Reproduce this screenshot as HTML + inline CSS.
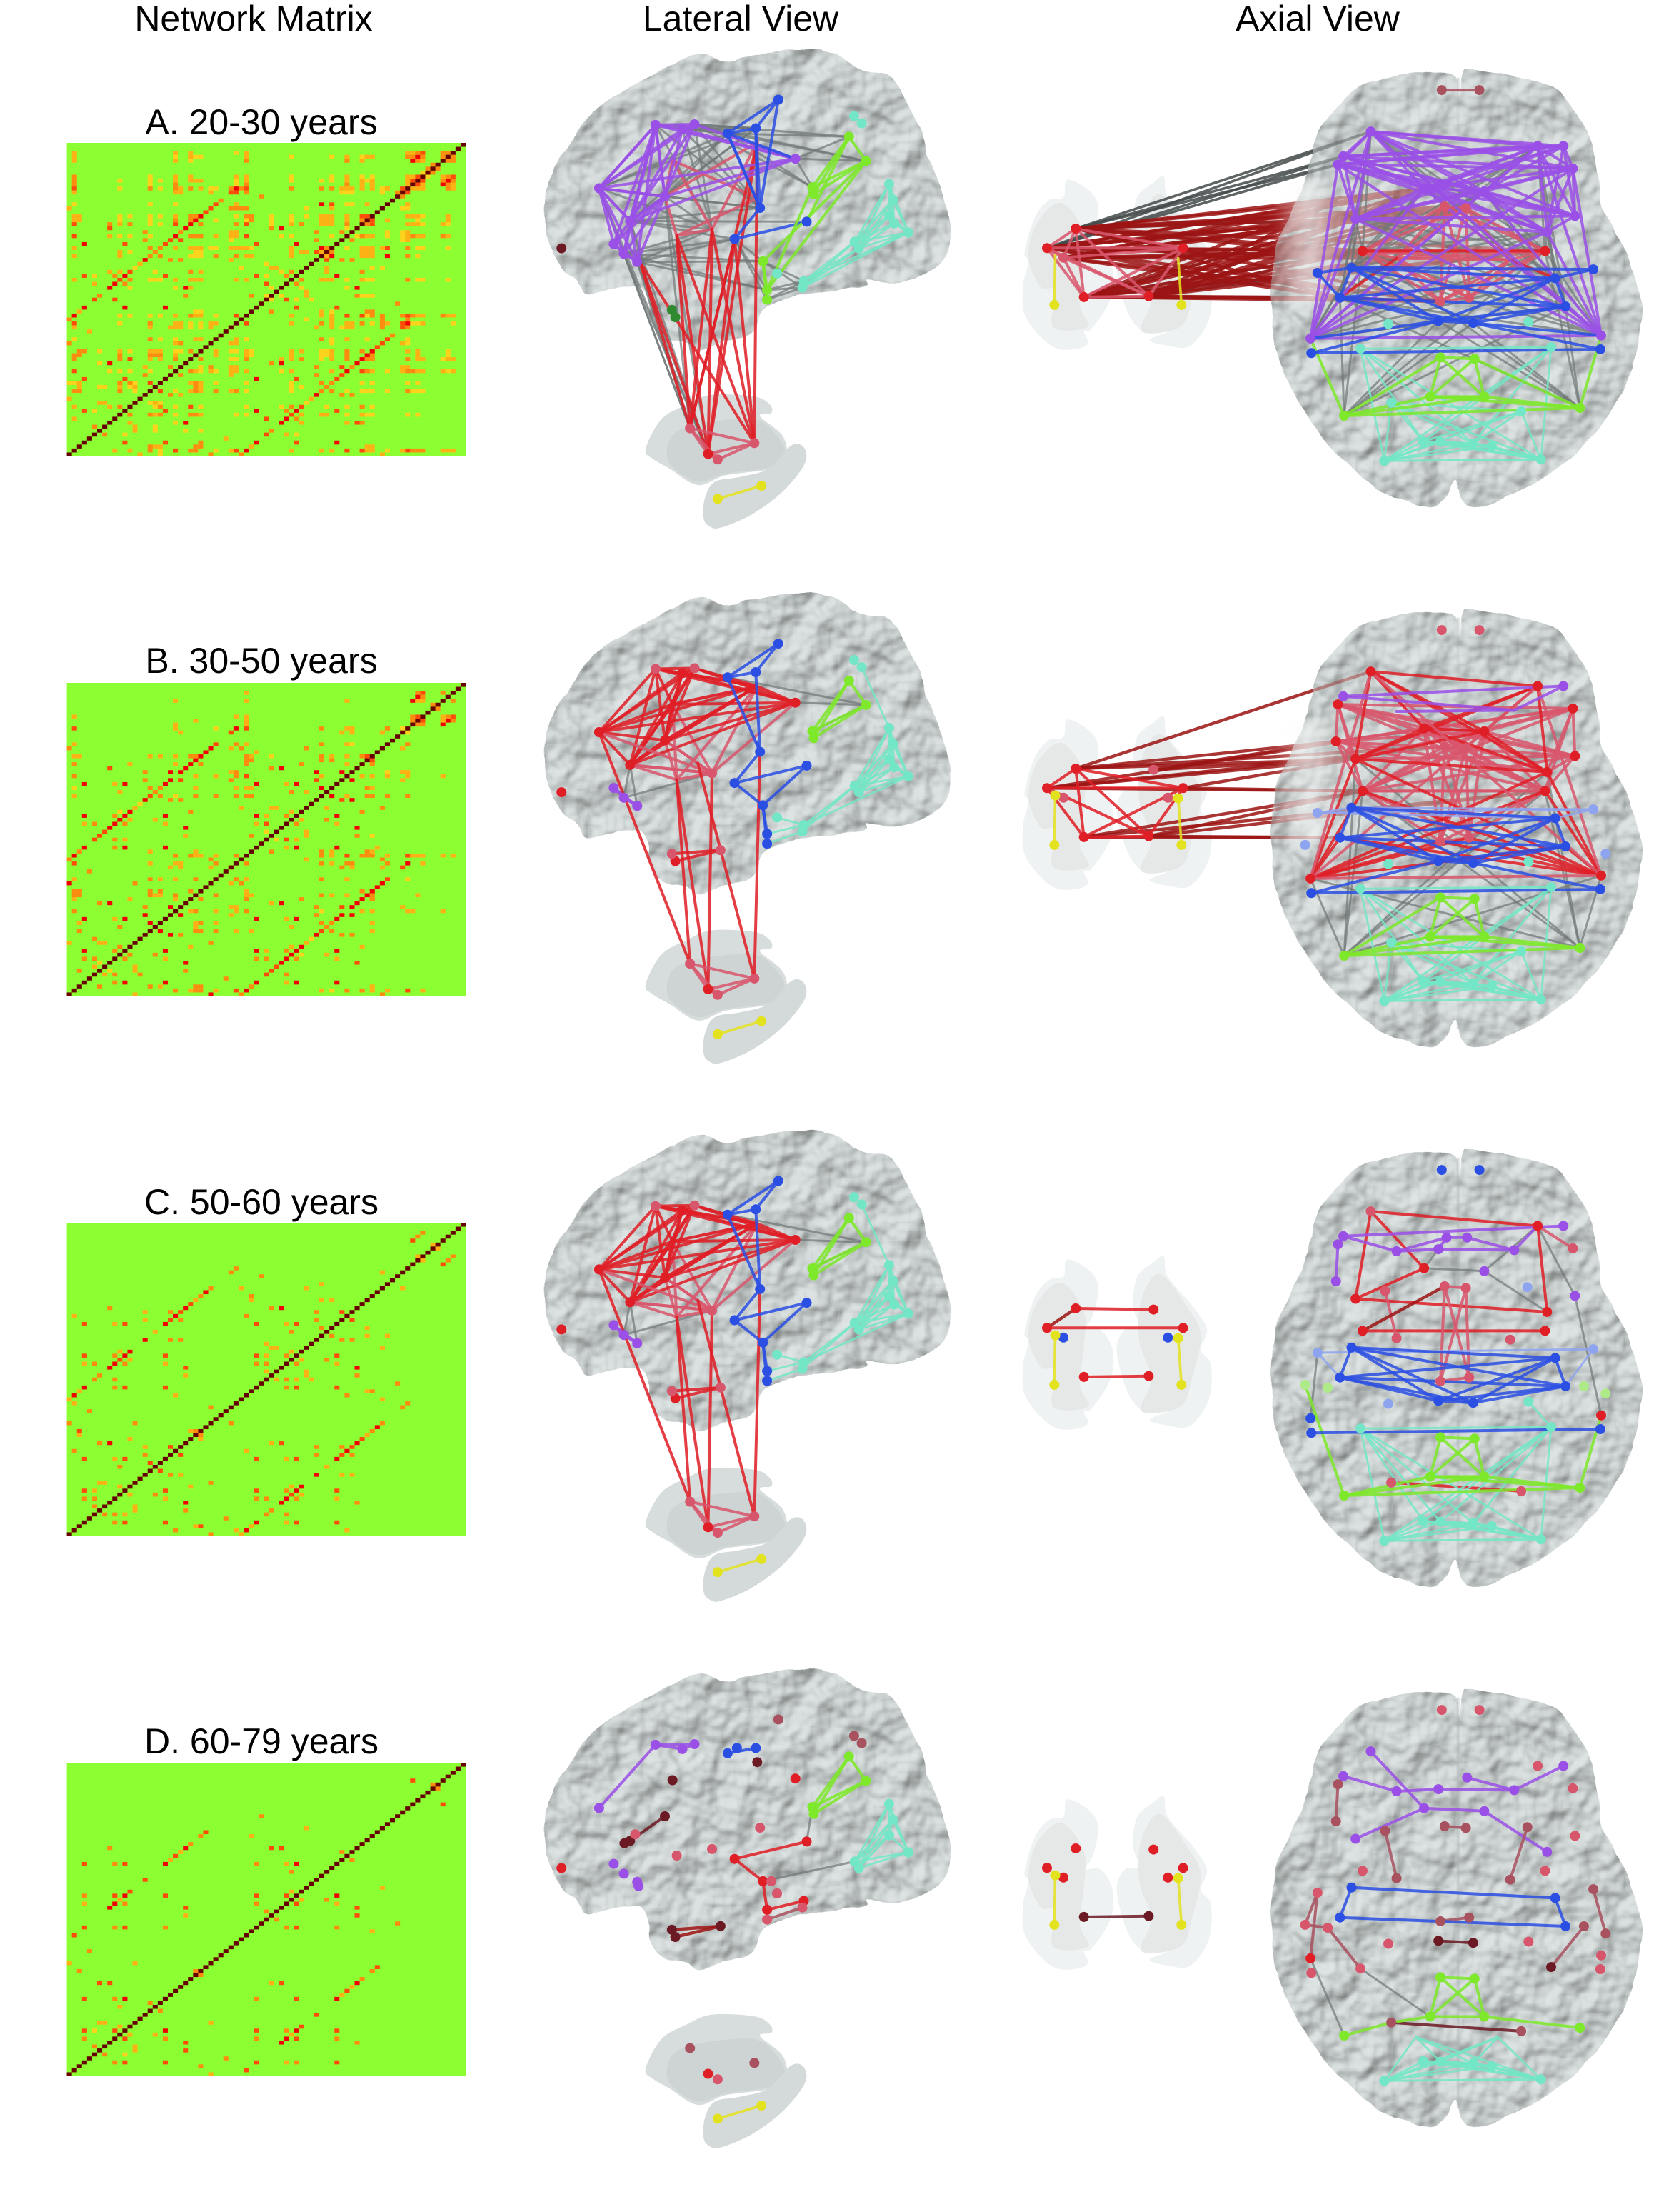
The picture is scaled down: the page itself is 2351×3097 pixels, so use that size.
<!DOCTYPE html>
<html lang="en">
<head>
<meta charset="utf-8">
<title>Network matrices and brain connectivity by age group</title>
<style>
html,body{margin:0;padding:0;background:#fff;}
svg{display:block;}
text{font-family:"Liberation Sans",Arial,sans-serif;font-size:50px;fill:#000;text-anchor:middle;}
</style>
</head>
<body>
<svg id="figure" xmlns="http://www.w3.org/2000/svg" width="2351" height="3097" viewBox="0 0 2351 3097">
  <defs>
    <filter id="gyri" x="-4%" y="-4%" width="108%" height="108%" color-interpolation-filters="sRGB">
      <feTurbulence type="fractalNoise" baseFrequency="0.02" numOctaves="3" seed="11" result="noise"/>
      <feDisplacementMap in="SourceGraphic" in2="noise" scale="9" xChannelSelector="R" yChannelSelector="G" result="shape"/>
      <feDiffuseLighting in="noise" surfaceScale="8.5" diffuseConstant="1" lighting-color="#dde4e3" result="lit">
        <feDistantLight azimuth="235" elevation="65"/>
      </feDiffuseLighting>
      <feComposite in="lit" in2="shape" operator="in"/>
    </filter>
    <filter id="soft" x="-20%" y="-20%" width="140%" height="140%"><feGaussianBlur stdDeviation="7"/></filter>
    <linearGradient id="haze" x1="0" x2="1" y1="0" y2="0">
      <stop offset="0" stop-color="#fff" stop-opacity="0"/>
      <stop offset="0.55" stop-color="#f4f6f5" stop-opacity="0.62"/>
      <stop offset="1" stop-color="#fff" stop-opacity="0"/>
    </linearGradient>
  </defs>
  <text x="355" y="43">Network Matrix</text>
  <text x="1037" y="43">Lateral View</text>
  <text x="1845" y="43">Axial View</text>
  <text x="366" y="188">A. 20-30 years</text>
  <text x="366" y="942">B. 30-50 years</text>
  <text x="366" y="1700">C. 50-60 years</text>
  <text x="366" y="2455">D. 60-79 years</text>
  <g id="layer"></g>
</svg>
<script>
/* ---------- matrix data: each row is [rowFromTop, col, level, col, level, ...] ---------- */
const regionCount = 79;
const levelColors = ["#8cff33", "#ffd21c", "#ffb015", "#ff8a10", "#ff4a0a", "#f20000", "#660000"];
const cellsA = [
[2,1,2,21,2,24,2,33,1,35,2,67,2,68,2,69,3,70,4,74,3,75,3],
[3,1,2,21,1,24,2,25,1,26,1,35,2,44,1,52,1,55,2,58,1,59,2,60,2,67,3,68,3,69,5,70,3,74,3],
[4,1,2,21,2,24,1,35,3,55,3,58,2,68,5,69,3,70,2],
[5,72,3],[6,71,3],[7,70,1],
[8,1,3,16,1,21,2,24,2,33,2,35,2,44,1,52,1,55,2,58,1,60,1,67,2,68,2,69,4],
[9,1,3,10,1,16,1,18,1,21,2,24,2,25,2,26,2,33,1,35,2,44,1,50,1,52,1,55,2,58,2,59,1,60,2,67,2,68,4],
[10,1,3,16,1,21,3,33,1,35,3,55,3,58,2,60,2,67,2],
[11,1,4,10,1,16,3,18,1,21,3,22,2,24,3,26,2,28,1,29,1,32,3,33,5,34,3,35,4,44,3,50,3,52,3,54,2,55,2,56,2,58,2,60,2,62,2,63,2,66,4],
[12,1,2,21,2,22,2,28,2,32,4,33,4,35,3,54,1,55,1,56,1,62,3,65,3],
[13,38,3],[14,30,3],
[15,1,1,16,1,21,1,29,4,33,2,50,5,52,4,55,1,56,1,59,2,67,2],
[16,0,2,28,4,32,3,33,3,34,3,35,3,47,1,52,2,66,1,67,1],
[17,27,4],
[18,1,2,2,2,10,1,12,1,16,1,18,1,21,2,24,3,25,3,26,5,33,1,35,3,36,3,40,1,44,1,47,1,50,2,51,2,52,2,55,2,58,4,59,4],
[19,1,2,2,2,10,1,16,1,21,3,24,3,25,5,29,1,35,1,36,3,40,1,44,1,50,2,51,2,52,2,55,2,58,3],
[20,1,4,8,3,10,2,12,3,16,1,18,1,21,4,24,5,26,3,33,3,35,4,40,1,44,2,46,3,50,2,51,2,52,2,55,3],
[21,8,4,23,5,40,3,42,5,55,1],
[22,15,3,22,3,32,2,33,2,49,3,54,3],
[23,1,4,8,2,10,1,12,1,16,1,21,5,24,3,25,3,26,3,29,2,32,2,33,2,35,4,42,1,44,1,52,1],
[24,15,3,20,4,22,4,32,1,49,3],
[25,3,5,11,4,19,4,37,4,45,5],
[26,1,2,16,3,18,3,21,2,24,2,25,2,26,2,28,1,29,1,32,2,33,2,34,2,35,2,36,1,44,2,50,5,51,3],
[27,10,2,12,1,17,3,25,1,26,1,44,2,46,2,47,2,49,4,50,2],
[28,1,2,10,2,16,3,18,3,24,1,25,1,26,1,29,3,33,3,35,2,36,2,44,2],
[29,15,5,20,3,22,3,32,2],
[30,14,2,39,1],[31,13,1,34,1,40,2,41,2],
[32,8,2,10,2,12,4,17,1,24,3,26,2,42,1,44,3],
[33,3,4,5,1,9,3,11,5,19,4,37,4,39,1,43,3],
[34,1,2,10,4,12,3,16,1,17,1,18,1,21,2,24,2,25,2,26,2,33,2,35,2],
[35,5,2,9,5,11,3,39,4],
[36,8,5,12,1,21,1,23,5,24,2,40,1],
[38,6,3,23,3,36,3,39,1],
[39,5,4,9,4],
[41,3,5,11,5,19,5],
[42,2,2,25,1,26,1],
[43,1,5,10,1,12,1,16,1,18,1,21,2,24,3,25,2,26,2,29,1,33,4],
[44,0,3],
[45,1,4,10,1,16,3,21,2,22,2,24,1,26,1,28,2,29,2],
[46,1,2,16,2,20,2,21,2,22,2,24,1,26,1,28,2,32,3],
[47,4,2],
[49,1,1,16,3,18,1,21,1,25,2,26,2],
[50,0,3,21,2,22,3],
[52,2,3,3,3,6,1,10,2,12,1,16,2,17,2,18,2,21,1,22,1,24,3],
[53,1,3,2,3,10,3,16,3,17,3,18,3,21,2],
[54,1,3,10,3,12,4,16,2,18,2,21,3],
[55,6,1,8,5],[56,15,2,20,3],
[57,1,4,8,1,10,1,12,1,16,1],
[58,15,3],[59,3,4,11,4],
[60,0,1,1,1,2,2,10,3,12,3,13,1,16,4],
[61,2,2,6,1,7,1,10,2,12,1,13,2],
[62,1,3,2,3,10,3,13,1],
[64,0,2],[65,6,2,7,2],[66,1,2,8,2,10,3],[67,3,4,5,1],[69,1,2],[71,5,3]
];
const cellsB = [
[2,35,2,69,3,70,4,74,3],[3,69,5,70,3],[4,21,2,35,2,55,2,68,5,69,2,70,2],[5,72,3],
[8,1,2,33,2,35,2,68,3,69,4],[9,25,2,35,2,68,3],[10,21,2,35,2],
[11,1,4,21,2,29,1,33,5,35,4,50,3,55,2,56,2,63,3,66,1],
[12,22,2,32,4,54,2,56,2,62,3],
[15,1,2,29,4,33,3,35,2,50,3,55,2,56,2,67,3],
[16,0,3,28,5,32,2,34,3,47,3,66,2],
[17,27,5,37,2],
[18,1,2,2,2,16,2,18,2,21,2,24,3,25,3,26,5,35,3,36,2,40,1,50,3,52,2,55,2,58,3,59,4],
[19,25,5,35,3,36,3,50,3,52,3],
[20,1,3,12,2,21,2,24,5,26,3,35,3,46,3,55,2],
[21,8,4,23,5,40,3,42,5],
[22,15,3,20,5,22,5,32,2,33,3,49,5,54,5,63,1,66,2,67,2],
[23,1,3,25,2,29,2,33,3,35,4,50,2],
[24,15,3,20,5,22,4,32,3,49,4],
[25,3,5,9,2,11,5,19,5,37,5,43,2,45,5],
[26,1,1,16,3,18,3,25,2,33,2,35,2,36,2,50,5],
[27,10,2,17,3,44,3,47,2],
[28,1,2,16,4,18,3,21,1,25,3,29,3,33,3,35,3,36,3],
[29,15,5,20,3,22,3],
[30,14,1],[31,13,2,34,2,40,2,41,2],
[32,10,1,12,5,24,3,44,2],
[33,3,5,9,3,11,5,19,5,37,5,39,2,43,3],
[34,10,5,12,2,17,2],
[35,3,2,5,3,9,5,11,3,19,2,37,2,39,4],
[36,8,5,23,5],[37,39,1,7,4],
[38,6,4,23,2,36,3],
[39,5,4,9,3,11,2],
[41,3,5,9,3,11,5,19,5],
[42,2,3,16,2,25,2],
[43,1,5,21,3,24,3,25,2,26,2,29,2,33,3],
[44,0,3,28,3],
[45,1,4,16,2,21,2,22,2,29,3],
[46,20,2,22,2,28,2,32,3],
[47,4,3],
[49,1,2,16,3,18,2,21,2,25,3],
[50,0,5,13,3],
[52,1,3,2,3,16,3,18,3,24,3],
[53,1,3,2,3,16,3,17,2,18,2,21,3],
[54,1,2,12,2,21,2],
[55,6,3,8,5],
[56,15,3,20,5],
[57,1,3],[58,15,5],
[59,3,5,9,2,11,5],
[60,2,2,16,5],[61,10,3],[62,2,3],
[64,5,3],[65,0,2,6,2,7,2],[66,10,3],
[67,3,5,9,3],[69,3,3,5,3],[70,6,1],[71,5,2],[72,2,3]
];
const cellsC = [
[2,70,3],[3,69,3],[4,68,4],[5,72,2],[8,69,2],
[11,33,3],[12,32,3,62,2],[13,38,3],[15,50,2],
[16,28,3,34,2,47,2,66,2],[17,27,5],[18,26,3,36,3],
[19,25,2,36,2,50,2,52,2],[20,24,4],
[21,23,5,8,3,40,3,42,5],
[22,15,2,20,3,22,4,49,3,54,4],
[23,1,2,21,5,35,3],[24,15,2,20,4,22,3,49,3],
[25,3,4,9,2,11,4,19,5,37,4,43,2,45,4],
[26,50,3],[27,17,2,44,3],
[29,15,5,20,3,22,3],[30,39,2],[31,40,2,41,2],
[32,10,2,12,5,44,2],
[33,3,4,9,3,11,5,19,4,37,4,39,2,43,3],
[34,10,4,12,2],
[35,3,2,5,3,9,5,11,3,19,2,37,3,39,3],
[36,8,5,23,4],[37,39,2],
[38,6,3,23,2],[39,5,3,9,3],
[41,3,5,9,3,11,4,19,4],
[42,2,2],[43,1,5,21,2],[44,0,2],[45,1,2],
[46,28,3],[47,4,3],[50,0,3,13,3],
[52,2,4,24,2,25,3],[53,2,2],[54,12,2],
[55,6,3,8,5],[56,15,2,20,4],[57,1,3],[58,15,3],
[59,3,4,9,2,11,4],[60,16,4],[61,10,3],
[65,6,2,7,2],[66,10,2],[67,3,4,5,2],
[69,3,3,5,3],[71,5,3]
];
const cellsD = [
[4,68,4],[5,72,3],[13,38,3],[16,47,2],[17,27,4],[18,26,3,36,2],
[20,24,3],[21,23,5,8,3,40,4,42,4],[22,22,2,54,3],[23,21,4],[24,20,2],
[25,19,5,3,4,9,3,11,4,37,3,43,2,45,5],[27,44,3],[29,15,4],
[32,12,4,44,2],
[33,3,3,9,4,11,5,19,4,37,4,43,4],
[34,10,2],
[35,3,2,9,5,11,3,37,3],
[36,8,5,23,4],[37,39,3],[38,23,2],
[41,3,4,9,3,11,4,19,3],
[43,1,4],[47,4,3],[50,0,2,13,2],[52,2,3,25,3],
[55,6,4,8,4],
[59,3,4,9,3,11,5],[60,16,3],[61,10,2],
[65,6,2,7,2],[66,10,2],[67,3,4,5,1,9,4],[69,3,3],[71,5,3]
];

/* ---------- brain atlas: region locations in each view's anatomical units ---------- */
const lateralRegions = {
P1:[250,465],P2:[450,272],P3:[545,285],P4:[588,270],P5:[483,490],P6:[360,565],P6b:[340,572],P7:[945,375],P8:[302,635],P9:[338,665],P10:[385,690],P10b:[390,703],
R1:[510,380],R2:[650,590],R3:[810,325],R4:[525,610],R5:[395,690],R6:[600,560],R7:[860,688],R8:[378,545],
B1:[705,298],B1b:[738,282],B2:[805,282],B3:[885,195],B4:[985,567],B5:[730,620],B6:[820,525],B6b:[810,495],B7:[830,688],B8:[845,775],B9:[845,805],
G1:[1135,308],G2:[1195,382],G3:[1005,462],G4:[1010,483],
C1:[1153,245],C2:[1180,267],C3:[1277,452],C4:[1290,500],C5:[1277,548],C6:[1295,572],C7:[1345,600],C8:[1155,628],C9:[1170,648],C10:[975,748],C11:[970,768],C12:[880,725],
S1:[572,1197],S2:[636,1275],S3:[670,1292],S4:[800,1242],Y1:[670,1412],Y2:[825,1372],
F:[117,648],T1:[508,836],T2:[520,858],T3:[680,825],T4:[690,838]
};
const axialRegions = {
fa1:[905,255],fa2:[1312,305],pa1:[1375,305],pa2:[838,340],fa3:[825,368],fa4:[1398,382],fa5:[1035,450],fa6:[1182,460],fa7:[868,555],fa8:[1335,600],fa9:[1403,545],fa10:[820,495],
pb1:[968,392],pb2:[1070,385],pb3:[1090,345],pb4:[1140,345],pb5:[1255,388],
m1:[1085,512],m2:[1137,518],fa11:[885,665],fa12:[1330,665],ta1:[968,690],ta2:[1245,695],tb1:[940,528],tb2:[1287,515],
ba1:[858,722],ba2:[1355,758],ba3:[1448,728],ba4:[775,740],ba5:[830,825],ba6:[1380,855],ba7:[1070,905],ba8:[1155,912],ba9:[760,1015],ba10:[1465,1002],
m3:[1075,838],m4:[1145,825],e1:[758,965],e2:[1467,955],
ga1:[840,1230],ga2:[1415,1203],ga3:[1050,1165],ga4:[1182,1165],ga5:[1075,1030],ga6:[1158,1035],ga7:[745,850],ga8:[800,860],ga9:[1425,855],ga10:[1478,880],
ca1:[955,1185],ca2:[1272,1215],ca3:[1033,1318],ca4:[1075,1320],ca5:[1155,1325],ca6:[1200,1335],ca7:[938,1385],ca8:[1320,1380],ca9:[880,1000],ca10:[1345,995],ca11:[948,915],ca12:[1290,908],ca13:[1015,1235],ca14:[1215,1235],
pole1:[1078,113],pole2:[1170,113],
s1:[185,588],s2:[115,655],s3:[155,688],s4:[205,823],s5:[363,820],s6:[447,655],s7:[410,688],s8:[375,592],
y1:[133,850],y2:[443,850],y3:[135,680],y4:[435,690]
};

/* ---------- anatomical outlines in the same view units ---------- */
const lateralCortexOutline = [[55,525],[70,447],[100,379],[140,340],[200,262],[280,194],[400,136],[545,73],[620,58],[700,78],[820,53],[950,39],[1080,53],[1180,107],[1280,126],[1340,204],[1400,321],[1430,389],[1470,486],[1497,613],[1470,681],[1400,729],[1300,754],[1200,739],[1190,763],[1000,788],[900,807],[830,836],[790,904],[700,934],[610,958],[560,934],[480,919],[430,865],[410,778],[350,763],[210,788],[170,739],[130,710],[70,622]];
const lateralStriatumOutline = [[415,1260],[470,1170],[560,1125],[650,1095],[800,1100],[855,1125],[860,1150],[820,1160],[900,1220],[915,1290],[870,1320],[700,1340],[600,1370],[500,1320],[440,1290]];
const lateralPutamenOutline = [[490,1265],[520,1210],[620,1180],[800,1170],[880,1220],[908,1275],[860,1315],[700,1335],[600,1360],[510,1315]];
const lateralHippocampusOutline = [[620,1470],[625,1410],[660,1360],[750,1345],[850,1320],[930,1250],[975,1255],[978,1305],[900,1390],[790,1460],[680,1500],[640,1495]];
const axialCortexOutline = [[1130,50],[1150,45],[1250,65],[1350,110],[1400,180],[1440,270],[1460,410],[1470,510],[1500,600],[1540,700],[1565,880],[1550,1040],[1500,1190],[1430,1320],[1350,1420],[1260,1495],[1170,1540],[1125,1515],[1112,1455],[1060,1540],[960,1510],[880,1435],[790,1310],[720,1160],[680,1030],[660,880],[670,680],[700,570],[740,440],[770,280],[820,180],[880,100],[950,70],[1060,50],[1110,60],[1118,130]];
const axialSubLeftOutline = [[165,420],[220,460],[240,520],[225,620],[205,660],[245,660],[275,730],[270,830],[225,930],[205,940],[215,980],[190,1000],[140,1000],[100,960],[60,880],[57,780],[70,700],[60,670],[85,550],[120,490],[155,480]];
const axialSubRightOutline = [[400,410],[410,480],[470,580],[505,660],[490,730],[515,780],[510,900],[465,990],[410,990],[365,970],[410,940],[350,940],[310,870],[285,730],[305,660],[340,650],[325,580],[335,480],[375,430]];
const axialSubLeftCore = [[150,500],[205,600],[205,720],[195,850],[215,925],[130,925],[135,800],[100,790],[70,690],[90,570]];
const axialSubRightCore = [[390,470],[460,590],[490,680],[470,820],[440,925],[345,940],[370,830],[340,700],[345,560]];

/* ---------- networks per age group ---------- */
const swatches = {purple:"#9a50e6",lightpurple:"#bb8cf0",blue:"#2b4fe3",lightblue:"#8fa4ef",green:"#7ee82a",lightgreen:"#aeea88",cyan:"#72e6c6",red:"#e01e26",pink:"#d8566c",dark:"#6b1a24",darkpink:"#a8525f",yellow:"#e3e21f",gray:"#6f7676",darkgray:"#454b4b",darkred:"#9c1414",darkgreen:"#2f8a2f"};
const strokeWidths = {gray:3,darkgray:3.6,cyan:2.8,darkred:4.4,lightblue:3,yellow:3.6};

const lateralEdgesA = [
["gray","P1 P2 P3 P4 P5 P6","B1 B2 B6 R2"],["gray","P7 B1 P4","G3 G2 G1"],["gray","P1 P6 P9 P10 P5","S1 S2"],["gray","P9 P10","B7 B8 R2 B5"],["gray","P6","B4 B5"],["gray","B7 B8 B9","C10 C11 B5"],
["pink","R1 R3 R4","R2 B6b P5"],
["red","R5 R4 R2 B5 R3","S1 S2 S4"],
["pink","S1 S2 S3 S4"],
["purple","P1 P2 P3 P4 P5 P6 P7"],["purple","P8 P9 P10 P6 P1 P2 P5"],
["blue","B1 B2 B3 B6"],["blue","B4:B5 B5:B6 B6:B1 B1:P7 B2:B6b"],
["green","G1 G2 G3 G4"],["green","G2:B8 G2:B7 G3:B8 B7:B8 B7:B9 G1:B4"],
["cyan","C3 C4 C5 C6 C7 C8 C9"],["cyan","C7 C8 C9","C10 C11"],["cyan","C1:C2"],
["yellow","Y1:Y2"]
];
const lateralEdgesB = [
["gray","P4:B1 B1:G2 P7:G2 P6:P9 P9:R2 G3:G2 P6:P10"],
["pink","R1 R2 R4 P5 P6 R3"],
["red","P1 P2 P3 P4 P5 P6 P7 R1 R3"],["pink","P1 P5 P6 P7","R2"],
["red","P1:S1 R4:S1 R4:S2 R2:S2 R6:S4 B6:S4"],
["pink","S1 S2 S3 S4"],
["red","T1:T3 T2:T3"],
["blue","B1 B2 B3"],["blue","B1:B6 B2:B6 B6:B5 B6:B6b"],["blue","B4 B5 B7"],["blue","B7:B8 B7:B9"],
["purple","P8 P9 P10"],
["green","G1 G2 G3 G4"],
["cyan","C3 C4 C5 C6 C7 C8 C9"],["cyan","C1:C2 C2:C3 C12:C10 C10:C8 C10:C7 C11:C8 B8:C10 B9:C11"],
["yellow","Y1:Y2"]
];
const lateralEdgesC = lateralEdgesB;
const lateralEdgesD = [
["gray","G3:B4 C8:B7"],
["purple","P1:P2 P2:P3 P2:P4 P3:P4"],["blue","B1:B2"],
["green","G1 G2 G3 G4"],["cyan","C3 C4 C5 C7 C8 C9"],
["dark","P5:P6"],["red","B4:B5 B5:B7 B7:B8 B8:C10"],["darkpink","C11:B9"],["darkred","T1:T3 T2:T3"],
["yellow","Y1:Y2"]
];
const lateralNodesA = [["purple","P1 P2 P3 P4 P5 P6 P7 P8 P9 P10"],["blue","B1 B2 B3 B4 B5 B6"],["green","G1 G2 G3 G4 B7 B8 B9"],["cyan","C1 C2 C3 C4 C5 C6 C7 C8 C9 C10 C11 C12"],["pink","S1 S3 S4"],["red","S2"],["yellow","Y1 Y2"],["dark","F"],["darkgreen","T1 T2"]];
const lateralNodesB = [["red","P1 P3 P5 P6 P7 F T2"],["pink","P2 P4 R2 S1 S3 S4 T1 T3"],["purple","P8 P9 P10"],["blue","B1 B2 B3 B4 B5 B6 B7 B8 B9"],["green","G1 G2 G3 G4"],["cyan","C1 C2 C3 C4 C5 C6 C7 C8 C9 C10 C11 C12"],["red","S2"],["yellow","Y1 Y2"]];
const lateralNodesC = lateralNodesB;
const lateralNodesD = [["purple","P1 P2 P3 P4 P8 P9 P10 P10b"],["blue","B1 B1b B2"],["green","G1 G2 G3 G4"],["cyan","C3 C4 C5 C7 C8 C9"],["dark","P5 P6 P6b R1 R3 T1 T2 T3"],["darkpink","B3 C1 C2 S1 S4"],["red","B4 B5 B7 B8 C10 F P7 S2"],["pink","R2 B6 R4 R8 C11 B9 C12 R7 S3"],["yellow","Y1 Y2"]];

const axialCyanNet = [["cyan","ca3 ca4 ca5 ca6 ca7 ca8"],["cyan","ca9 ca10 ca1 ca2","ca3 ca5 ca7 ca8"],["cyan","ca1:ca2 ca9:ca10"]];
const axialSubEdgesA = [
["darkgray","s1 s2","fa1 pa2 fa3 fa7"],["darkgray","s4 s5","fa7 fa11 ba4"],
["darkred","s1 s2 s4 s5 s3","fa10 fa7 fa11 m1 m2 ta1 ba5 fa5 m3 fa12"],
["pink","s1 s2 s3 s4 s5 s6"],["yellow","y1:y3 y2:y4"]
];
const axialEdgesA = [
["gray","fa1 fa2 fa5 fa6 fa7 fa8 e1 e2","fa11 fa12 ba1 ba2 ba5 ba6"],["gray","ga1 ga2","fa11 fa12 ba5 ba6 ba7 ba8"],
["pink","m1 m2 m3 m4 fa11 fa12 ta1 ta2"],["red","fa11:fa12 ba5:m3 ba5:ta1 ba2:ta2"],
...axialCyanNet,
["green","ga1 ga2 ga3 ga4"],["green","ga5 ga6 ga3 ga4"],["green","ga1:ga5 ga2:ga6 e1:ga1 e2:ga2"],
["purple","fa1 fa2 pa1 pa2 fa3 fa4 fa5 fa6 fa7 fa8 fa9"],["purple","e1 e2","fa1 fa2 fa3 fa4 fa7 fa8 fa5 fa6"],["purple","e1:e2"],
["blue","ba1 ba2 ba5 ba6 ba7 ba8"],["blue","ba3:ba1 ba3:ba2 ba4:ba1 ba4:ba5 ba9:ba10 ba9:ba7 ba10:ba8 e1:ba7 e2:ba8"],
["pole","pole1:pole2"]
];
const axialSubEdgesB = [
["darkred","s1:fa1 s1:fa7 s1:fa10 s1:m1 s2:fa7 s2:fa11 s2:m1 s2:fa5 s6:fa7 s6:fa11 s8:fa7 s4:fa11 s4:fa12 s5:fa11 s5:fa12 s5:ba5 s4:ba5 s8:fa10"],
["red","s1 s2 s4 s5 s6"],["pink","s2:s3"],["yellow","y1:y3 y2:y4"]
];
const axialEdgesB = [
["gray","fa7 fa11 fa8 fa12 e1 e2","ga1 ga2"],
["pink","m1 m2 m3 m4 fa11 fa12 fa5 fa6"],
["pink","fa3 fa4 fa9 fa10 fa11 fa12"],["pink","fa3 fa4 fa9 fa10","fa5 fa6 fa7 fa8"],
["red","fa1 fa2 fa5 fa6 fa7 fa8"],["red","e1 e2","fa7 fa8 fa11 fa12 m3 m4 ba5 ba6"],["pink","e1 e2","fa1 fa2"],["pink","e1:e2"],
["purple","pa1:pa2 pa2:pb5 pa1:pb5 pb1:pb5"],
["lightblue","ba3 ba4 ba1 ba2"],
...axialCyanNet,
["green","ga1 ga2 ga3 ga4"],["green","ga5 ga6 ga3 ga4"],["green","ga1:ga5"],
["blue","ba1 ba2 ba5 ba6 ba7 ba8"],["blue","ba9:ba10 ba9:ba7 ba10:ba8"]
];
const axialSubEdgesC = [["red","s1:s8 s2:s6 s4:s5"],["darkred","s1:s2"],["yellow","y1:y3 y2:y4"]];
const axialEdgesC = [
["gray","fa5:fa6 fa6:fa8 fa5:pb2 fa2:fa9 fa9:e2 fa6:fa2 e1:ba4"],
["red","fa1:fa2 fa1:fa7 fa1:fa5 fa5:fa7 fa7:fa8 fa2:fa8 fa11:fa12 ca1:ca2"],
["pink","fa2:fa4 m1:m2 m1:m3 m2:m4 m1:m4 m2:m3 m3:m4 tb1:ta1"],["darkred","m1:fa11"],
["purple","pa1:pa2 pa2:pb1 pa2:fa3 fa3:fa10 pb1:pb2 pb1:pb3 pb2:pb3 pb3:pb4 pb4:pb5 pb2:pb5 pb5:fa2"],
["lightblue","ba4:ba3 ba4:ba5 ba3:ba6"],
["cyan","ca3 ca4 ca5 ca6 ca7 ca8"],["cyan","ca9 ca10","ca3 ca4 ca5 ca7 ca8"],["cyan","ca9:ca10 ca12:ca10"],
["green","ga1 ga2 ga3 ga4"],["green","ga5 ga6 ga3 ga4"],["green","ga1:ga7 ga2:e2"],
["blue","ba1 ba2 ba5 ba6 ba7 ba8"],["blue","ba9:ba10"]
];
const axialSubEdgesD = [["dark","s4:s5"],["yellow","y1:y3 y2:y4"]];
const axialEdgesD = [
["gray","e1:ga1 ca9:ga3"],
["purple","fa1:fa5 fa7:fa5 fa5:fa6 fa6:fa8 pa2:pb1 pb1:pb2 pb2:pb5 pb4:pb5 pb5:pa1"],
["darkpink","fa3:fa10 tb1:ta1 tb2:ta2 m1:m2 m3:m4 ba3:ga10 ga9:ca10 ba4:ga7 ba4:e1 ga7:ga8 ga8:ca9"],
["dark","ba7:ba8 ca1:ca2"],
["blue","ba1:ba2 ba2:ba6 ba6:ba5 ba5:ba1"],
["cyan","ca3 ca4 ca5 ca6 ca7 ca8"],["cyan","ca7 ca8 ca4 ca5","ca13 ca14"],
["green","ga1:ca1 ca1:ga3 ga3:ga4 ga4:ga2 ga5:ga6 ga5:ga3 ga5:ga4 ga6:ga3 ga6:ga4"]
];
const axialNodesA = [["purple","fa1 fa2 pa1 pa2 fa3 fa4 fa5 fa6 fa7 fa8 fa9 e1 e2"],["blue","ba1 ba2 ba3 ba4 ba5 ba6 ba7 ba8 ba9 ba10"],["green","ga1 ga2 ga3 ga4 ga5 ga6"],["cyan","ca1 ca2 ca3 ca4 ca5 ca6 ca7 ca8 ca9 ca10 ca11 ca12"],["pink","m1 m2 m3 m4 s3"],["red","fa11 fa12 s1 s2 s4 s5 s6"],["darkpink","pole1 pole2"],["yellow","y1 y2"]];
const axialNodesB = [["red","fa1 fa2 fa3 fa4 fa5 fa6 fa7 fa8 fa9 fa10 fa11 fa12 e1 e2 s1 s2 s4 s5 s6"],["pink","m1 m2 m3 m4 pole1 pole2 s3 s7 s8"],["purple","pa1 pa2"],["blue","ba1 ba2 ba5 ba6 ba7 ba8 ba9 ba10"],["lightblue","ba3 ba4 ga7 ga10"],["green","ga1 ga2 ga3 ga4 ga5 ga6"],["cyan","ca1 ca2 ca3 ca4 ca5 ca6 ca7 ca8 ca9 ca10 ca11 ca12"],["yellow","y1 y2 y3 y4"]];
const axialNodesC = [["red","fa2 fa5 fa7 fa8 fa11 fa12 e2 s1 s2 s4 s5 s6 s8"],["pink","fa1 fa4 m1 m2 m3 m4 ta1 ta2 tb1 ca1 ca2"],["purple","pa1 pa2 fa3 fa6 fa9 fa10 pb1 pb2 pb3 pb4 pb5"],["blue","ba1 ba2 ba5 ba6 ba7 ba8 ba9 ba10 e1 pole1 pole2 s3 s7"],["lightblue","ba3 ba4 ca11 tb2"],["lightgreen","ga7 ga8 ga9 ga10"],["green","ga1 ga2 ga3 ga4 ga5 ga6"],["cyan","ca3 ca4 ca5 ca6 ca7 ca8 ca9 ca10 ca12"],["yellow","y1 y2 y3 y4"]];
const axialNodesD = [["purple","fa1 fa5 fa6 fa7 fa8 pa1 pa2 pb1 pb2 pb4 pb5"],["pink","pole1 pole2 fa2 fa4 fa9 fa11 fa12 ca11 ca12 e2 ba10 ba9 ga8 ga7 ba4 ca9"],["darkpink","fa3 fa10 tb1 ta1 tb2 ta2 m1 m2 m3 m4 ba3 ga10 ga9 ca1 ca2"],["red","e1 s1 s2 s3 s6 s7 s8"],["dark","ba7 ba8 s4 s5 ca10"],["blue","ba1 ba2 ba5 ba6"],["green","ga1 ga2 ga3 ga4 ga5 ga6"],["cyan","ca3 ca4 ca5 ca6 ca7 ca8"],["yellow","y1 y2 y3 y4"]];

const panelKeys = ["a","b","c","d"];
const panelCells = [cellsA,cellsB,cellsC,cellsD];
const panelLateral = [[lateralEdgesA,lateralNodesA],[lateralEdgesB,lateralNodesB],[lateralEdgesC,lateralNodesC],[lateralEdgesD,lateralNodesD]];
const panelAxial = [[axialSubEdgesA,axialEdgesA,axialNodesA],[axialSubEdgesB,axialEdgesB,axialNodesB],[axialSubEdgesC,axialEdgesC,axialNodesC],[axialSubEdgesD,axialEdgesD,axialNodesD]];
const cortexShift = [0,12,4,0];
const subcortexShift = [0,-14,-20,0];

/* ---------- scales ---------- */
const NS = "http://www.w3.org/2000/svg";
const layer = document.getElementById("layer");
const panelStep = 756;
const matrixLeft = 93.6, matrixWidth = 558.4, matrixTop = 200, matrixHeight = 439;
const colX = c => matrixLeft + c * matrixWidth / regionCount;
const rowY = t => matrixTop + t * matrixHeight / regionCount;
const latX = u => 740 + u * 620 / 1568;
const latY = v => 50 + v * 720 / 1568;
const axX = u => 1400 + u * 900 / 1568;
const axY = v => 80 + v * 640 / 1568;

function svgEl(tag, parent){
  const node = document.createElementNS(NS, tag);
  parent.appendChild(node);
  return node;
}
function smoothPath(points, fx, fy){
  const p = points.map(q => [fx(q[0]), fy(q[1])]);
  const n = p.length;
  let d = "M" + p[0][0].toFixed(1) + " " + p[0][1].toFixed(1);
  for(let i = 0; i < n; i++){
    const p0 = p[(i - 1 + n) % n], p1 = p[i], p2 = p[(i + 1) % n], p3 = p[(i + 2) % n];
    const c1x = p1[0] + (p2[0] - p0[0]) / 6, c1y = p1[1] + (p2[1] - p0[1]) / 6;
    const c2x = p2[0] - (p3[0] - p1[0]) / 6, c2y = p2[1] - (p3[1] - p1[1]) / 6;
    d += "C" + c1x.toFixed(1) + " " + c1y.toFixed(1) + " " + c2x.toFixed(1) + " " + c2y.toFixed(1) + " " + p2[0].toFixed(1) + " " + p2[1].toFixed(1);
  }
  return d + "Z";
}
function addShape(parent, name, outline, fx, fy, fill, opacity, useFilter){
  const shape = svgEl("path", parent);
  
  
  shape.setAttribute("d", smoothPath(outline, fx, fy));
  shape.setAttribute("fill", fill);
  shape.setAttribute("opacity", opacity);
  if(useFilter){ shape.setAttribute("filter", "url(#gyri)"); }
  return shape;
}

/* ---------- network marks ---------- */
function expandEdges(spec){
  const out = [];
  const a = spec[1].split(" ");
  if(spec[2]){
    const b = spec[2].split(" ");
    a.forEach(p => b.forEach(q => { if(p !== q){ out.push([p, q]); } }));
  } else if(spec[1].indexOf(":") >= 0){
    a.forEach(t => out.push(t.split(":")));
  } else {
    for(let i = 0; i < a.length; i++){ for(let j = i + 1; j < a.length; j++){ out.push([a[i], a[j]]); } }
  }
  return out;
}
function drawEdges(parent, specs, locate){
  specs.forEach(spec => {
    const color = spec[0] === "pole" ? swatches.darkpink : swatches[spec[0]];
    expandEdges(spec).forEach(pair => {
      const from = locate(pair[0]), to = locate(pair[1]);
      if(!from || !to){ return; }
      const line = svgEl("line", parent);
      
      
      line.setAttribute("x1", from[0].toFixed(1));
      line.setAttribute("y1", from[1].toFixed(1));
      line.setAttribute("x2", to[0].toFixed(1));
      line.setAttribute("y2", to[1].toFixed(1));
      line.setAttribute("stroke", color);
      line.setAttribute("stroke-width", strokeWidths[spec[0]] || 4);
      line.setAttribute("stroke-opacity", spec[0] === "gray" ? 0.7 : 0.86);
      line.setAttribute("stroke-linecap", "round");
    });
  });
}
function drawNodes(parent, specs, locate, radius){
  specs.forEach(spec => {
    spec[1].split(" ").forEach(id => {
      const at = locate(id);
      if(!at){ return; }
      const dot = svgEl("circle", parent);
      
      
      dot.setAttribute("cx", at[0].toFixed(1));
      dot.setAttribute("cy", at[1].toFixed(1));
      dot.setAttribute("r", radius);
      dot.setAttribute("fill", swatches[spec[0]]);
    });
  });
}

/* ---------- panels ---------- */
panelKeys.forEach((key, i) => {
  const panel = svgEl("g", layer);
  
  
  panel.setAttribute("transform", "translate(0," + (i * panelStep) + ")");

  /* matrix */
  const matrix = svgEl("g", panel);
  
  
  const bg = svgEl("rect", matrix);
  
  
  bg.setAttribute("x", colX(0));
  bg.setAttribute("y", rowY(0));
  bg.setAttribute("width", matrixWidth);
  bg.setAttribute("height", matrixHeight);
  bg.setAttribute("fill", levelColors[0]);
  const cw = matrixWidth / regionCount, ch = matrixHeight / regionCount;
  const paint = (col, row, level, name) => {
    const cell = svgEl("rect", matrix);
    
    
    cell.setAttribute("x", colX(col).toFixed(2));
    cell.setAttribute("y", rowY(row).toFixed(2));
    cell.setAttribute("width", cw.toFixed(2));
    cell.setAttribute("height", ch.toFixed(2));
    cell.setAttribute("fill", levelColors[level]);
  };
  panelCells[i].forEach(rowSpec => {
    const row = rowSpec[0];
    for(let k = 1; k < rowSpec.length; k += 2){
      const col = rowSpec[k], level = rowSpec[k + 1];
      paint(col, row, level, "matrix-cell");
      paint(regionCount - 1 - row, regionCount - 1 - col, level, "matrix-cell-mirror");
    }
  });
  for(let d = 0; d < regionCount; d++){ paint(regionCount - 1 - d, d, 6, "matrix-diagonal-cell"); }

  /* lateral view */
  const lateral = svgEl("g", panel);
  
  
  const cortexDy = cortexShift[i], subDy = subcortexShift[i];
  addShape(lateral, "lateral-cortex-surface", lateralCortexOutline, latX, v => latY(v + cortexDy), "#c9cfce", 1, true);
  addShape(lateral, "lateral-striatum", lateralStriatumOutline, latX, v => latY(v + subDy), "#d7dddc", 1, false);
  addShape(lateral, "lateral-putamen", lateralPutamenOutline, latX, v => latY(v + subDy), "#cbd2d1", 0.85, false);
  addShape(lateral, "lateral-hippocampus", lateralHippocampusOutline, latX, v => latY(v + subDy), "#d3dad9", 1, false);
  const latLocate = id => {
    const p = lateralRegions[id];
    if(!p){ return null; }
    const isSub = id[0] === "S" || id[0] === "Y";
    return [latX(p[0]), latY(p[1] + (isSub ? subDy : cortexDy))];
  };
  drawEdges(lateral, panelLateral[i][0], latLocate);
  drawNodes(lateral, panelLateral[i][1], latLocate, 7);

  /* axial view */
  const axial = svgEl("g", panel);
  
  
  addShape(axial, "axial-subcortex-left", axialSubLeftOutline, axX, axY, "#eff2f2", 1, false);
  addShape(axial, "axial-subcortex-right", axialSubRightOutline, axX, axY, "#eff2f2", 1, false);
  addShape(axial, "axial-subcortex-left-core", axialSubLeftCore, axX, axY, "#e3e7e6", 0.9, false);
  addShape(axial, "axial-subcortex-right-core", axialSubRightCore, axX, axY, "#e3e7e6", 0.9, false);
  addShape(axial, "axial-cortex-surface", axialCortexOutline, axX, axY, "#c9cfce", 1, true);
  const fissure = svgEl("line", axial);
  
  
  fissure.setAttribute("x1", axX(1118));
  fissure.setAttribute("y1", axY(70));
  fissure.setAttribute("x2", axX(1118));
  fissure.setAttribute("y2", axY(1480));
  fissure.setAttribute("stroke", "#aab2b1");
  fissure.setAttribute("stroke-width", 4);
  fissure.setAttribute("stroke-opacity", 0.4);
  const axLocate = id => {
    const p = axialRegions[id];
    return p ? [axX(p[0]), axY(p[1])] : null;
  };
  drawEdges(axial, panelAxial[i][0], axLocate);
  if(i < 2){
    const veil = addShape(axial, "translucent-cortex-veil", axialCortexOutline, axX, axY, "#c9cfce", 0.55, true);
    veil.setAttribute("pointer-events", "none");
    const hazeBand = svgEl("rect", axial);
    
    
    hazeBand.setAttribute("x", axX(670));
    hazeBand.setAttribute("y", axY(430));
    hazeBand.setAttribute("width", axX(835) - axX(670));
    hazeBand.setAttribute("height", axY(850) - axY(430));
    hazeBand.setAttribute("fill", "url(#haze)");
    hazeBand.setAttribute("filter", "url(#soft)");
  }
  drawEdges(axial, panelAxial[i][1], axLocate);
  drawNodes(axial, panelAxial[i][2], axLocate, 7);
});
</script>
</body>
</html>
